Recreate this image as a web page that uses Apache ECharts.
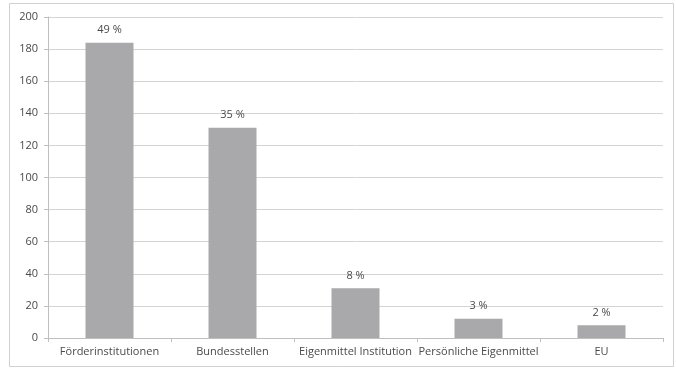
<!DOCTYPE html>
<html>
<head>
<meta charset="utf-8">
<script src="https://cdn.jsdelivr.net/npm/echarts@6/dist/echarts.min.js"></script>
<style>
  html, body { margin: 0; padding: 0; background: #ffffff; }
  #chart { width: 676px; height: 368px; }
</style>
</head>
<body>
<div id="chart"></div>
<script>
// Funding sources: absolute counts and their shares
const categories = ['Förderinstitutionen', 'Bundesstellen', 'Eigenmittel Institution', 'Persönliche Eigenmittel', 'EU'];
const counts = [184, 131, 31, 12, 8];
const shareLabels = ['49 %', '35 %', '8 %', '3 %', '2 %'];
const yTicks = { min: 0, max: 200, interval: 20 };

const textColor = '#4a4a4a';
const fontFamily = '"Open Sans", "Liberation Sans", sans-serif';

const chart = echarts.init(document.getElementById('chart'), null, { renderer: 'canvas' });
chart.setOption({
  backgroundColor: '#ffffff',
  animation: false,
  graphic: [{
    type: 'rect',
    shape: { x: 9.5, y: 3.5, width: 664, height: 363 },
    style: { fill: 'none', stroke: '#d0d0d0', lineWidth: 1 },
    silent: true
  }],
  grid: { left: 48, right: 13, top: 17, bottom: 30, containLabel: false },
  xAxis: {
    type: 'category',
    data: categories,
    boundaryGap: true,
    axisLine: { lineStyle: { color: '#bfbfbf', width: 1 } },
    axisTick: { show: true, length: 4, lineStyle: { color: '#bfbfbf' } },
    axisLabel: { color: textColor, fontSize: 11, fontFamily: fontFamily, margin: 8, interval: 0 }
  },
  yAxis: {
    type: 'value',
    min: yTicks.min,
    max: yTicks.max,
    interval: yTicks.interval,
    axisLine: { show: true, lineStyle: { color: '#bfbfbf', width: 1 } },
    axisTick: { show: true, length: 4, lineStyle: { color: '#bfbfbf' } },
    axisLabel: { color: textColor, fontSize: 11, fontFamily: fontFamily, margin: 10 },
    splitLine: { show: true, lineStyle: { color: '#d4d4d4', width: 1 } }
  },
  series: [{
    type: 'bar',
    data: counts,
    barWidth: 48,
    itemStyle: { color: '#a9a9ab' },
    label: {
      show: true,
      position: 'top',
      distance: 7,
      color: textColor,
      fontSize: 11,
      fontFamily: fontFamily,
      formatter: p => shareLabels[p.dataIndex]
    }
  }]
});
</script>
</body>
</html>
